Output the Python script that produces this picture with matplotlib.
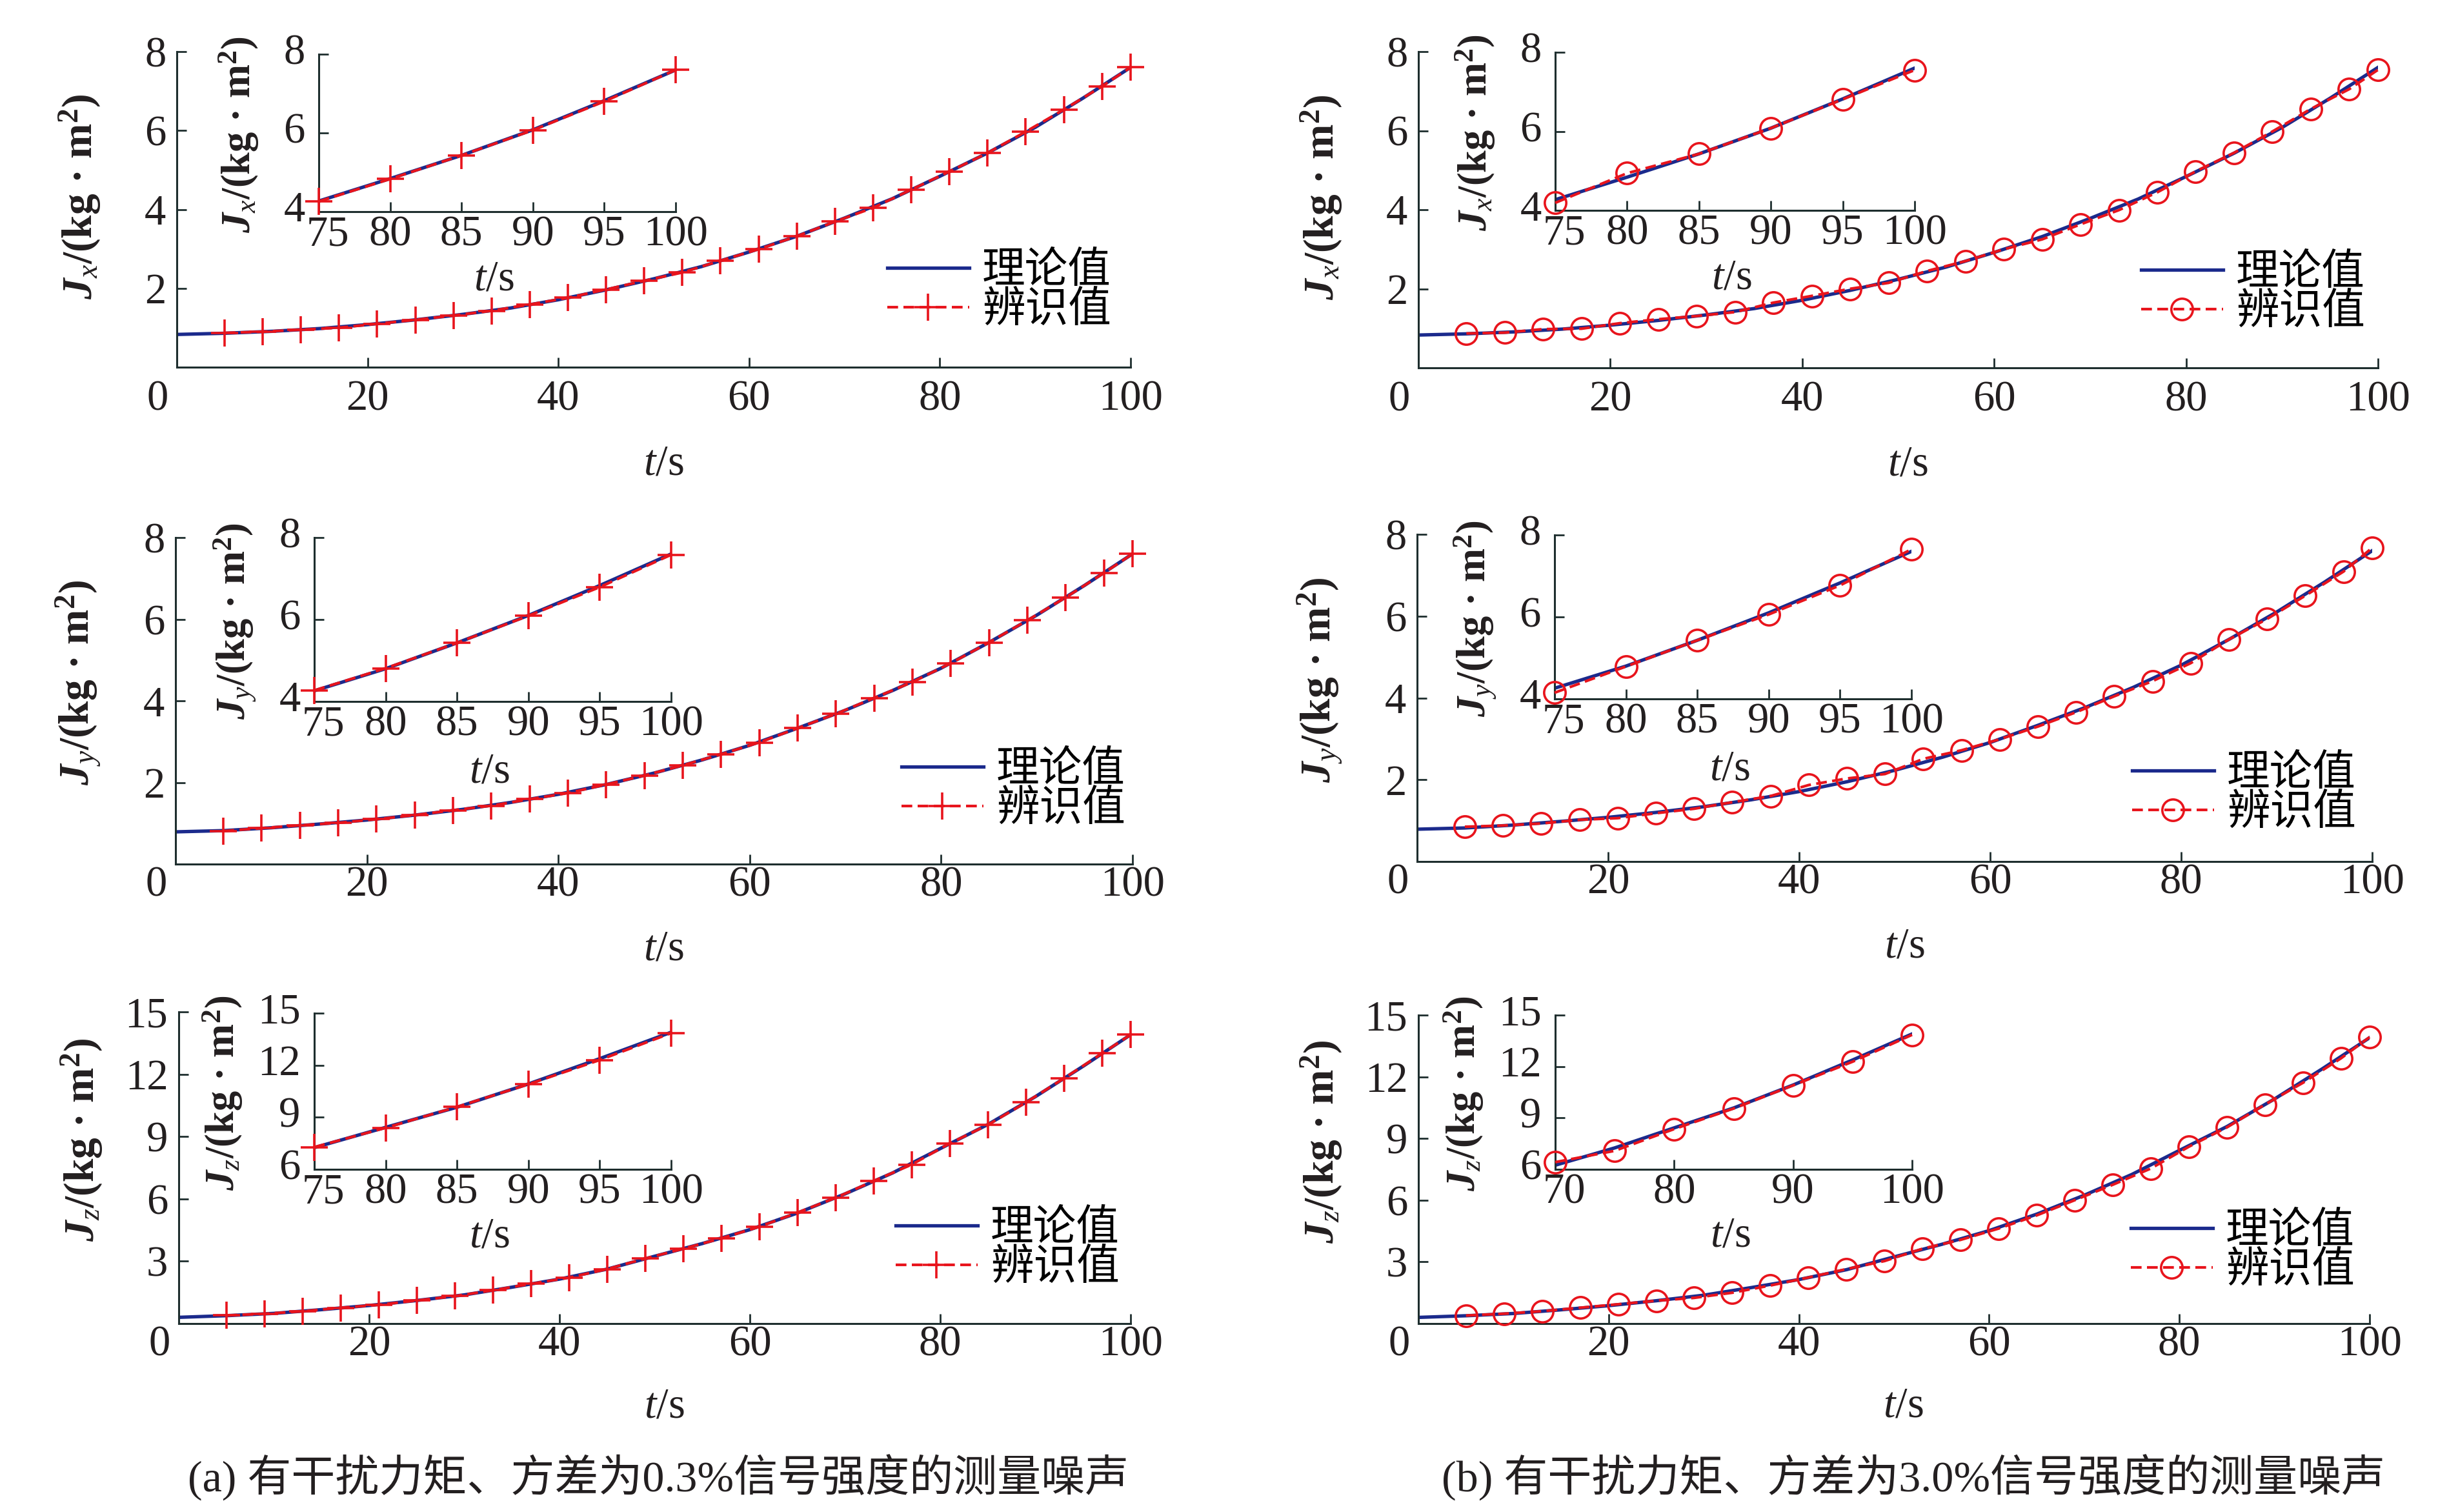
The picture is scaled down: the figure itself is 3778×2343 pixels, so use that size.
import numpy as np
import matplotlib
matplotlib.use('Agg')
import matplotlib.pyplot as plt
from matplotlib.transforms import ScaledTranslation

plt.rcParams['font.family'] = ['Liberation Serif', 'Noto Sans CJK SC']
plt.rcParams['mathtext.fontset'] = 'custom'
plt.rcParams['mathtext.rm'] = 'Liberation Serif'
plt.rcParams['mathtext.it'] = 'Liberation Serif:italic'
plt.rcParams['mathtext.bf'] = 'Liberation Serif:bold'
plt.rcParams['mathtext.bfit'] = 'Liberation Serif:italic:bold'

# time axes
t_theory = [0, 5, 10, 15, 20, 25, 30, 35, 40, 45, 50, 55, 60, 65, 70, 75, 80, 85, 90, 95, 100]
t_ident = [5, 9, 13, 17, 21, 25, 29, 33, 37, 41, 45, 49, 53, 57, 61, 65, 69, 73, 77, 81, 85, 89, 93, 97, 100]
t_inset = [75, 80, 85, 90, 95, 100]
t_inset_wide = [70, 75, 80, 85, 90, 95, 100]

# theoretical inertia (same in both columns)
jx_theory = [0.83, 0.86, 0.91, 0.98, 1.08, 1.20, 1.34, 1.50, 1.71, 1.96, 2.24,
             2.55, 2.92, 3.32, 3.78, 4.27, 4.84, 5.43, 6.08, 6.82, 7.60]
jy_theory = [0.79, 0.82, 0.89, 0.98, 1.08, 1.20, 1.34, 1.51, 1.71, 1.95, 2.23,
             2.55, 2.91, 3.33, 3.77, 4.26, 4.80, 5.43, 6.10, 6.83, 7.60]
jz_theory = [0.30, 0.38, 0.49, 0.67, 0.87, 1.11, 1.38, 1.75, 2.14, 2.62, 3.24,
             3.85, 4.52, 5.32, 6.24, 7.25, 8.42, 9.58, 10.92, 12.38, 13.90]

# identified values, (a) 0.3% noise
jx_ident_a = [0.87, 0.90, 0.95, 1.00, 1.10, 1.20, 1.31, 1.43, 1.59, 1.76, 1.97, 2.19, 2.40,
              2.70, 2.99, 3.32, 3.69, 4.04, 4.50, 4.96, 5.43, 5.97, 6.53, 7.12, 7.60]
jy_ident_a = [0.81, 0.88, 0.95, 1.01, 1.10, 1.20, 1.32, 1.43, 1.59, 1.74, 1.95, 2.17, 2.42,
              2.69, 2.98, 3.33, 3.68, 4.07, 4.46, 4.92, 5.43, 5.97, 6.53, 7.13, 7.60]
jz_ident_a = [0.39, 0.47, 0.59, 0.76, 0.90, 1.11, 1.32, 1.60, 1.91, 2.21, 2.62, 3.13, 3.60,
              4.10, 4.66, 5.34, 6.05, 6.86, 7.65, 8.67, 9.56, 10.64, 11.80, 13.00, 13.90]

# identified values, (b) 3.0% noise
jx_ident_b = [0.87, 0.89, 0.98, 0.99, 1.13, 1.23, 1.31, 1.41, 1.65, 1.82, 2.00, 2.15, 2.45,
              2.70, 3.00, 3.25, 3.63, 3.99, 4.44, 4.97, 5.44, 5.98, 6.55, 7.05, 7.54]
jy_ident_b = [0.85, 0.88, 0.93, 1.02, 1.06, 1.18, 1.29, 1.45, 1.60, 1.87, 2.03, 2.14, 2.51,
              2.72, 2.99, 3.30, 3.65, 4.04, 4.41, 4.85, 5.43, 5.93, 6.50, 7.09, 7.67]
jz_ident_b = [0.39, 0.48, 0.60, 0.77, 0.94, 1.11, 1.25, 1.50, 1.85, 2.24, 2.65, 3.04, 3.64,
              4.07, 4.62, 5.26, 6.00, 6.75, 7.54, 8.60, 9.54, 10.65, 11.71, 12.90, 13.93]

# identified values in the zoomed insets
jx_inset_a = [4.26, 4.83, 5.43, 6.07, 6.80, 7.60]
jy_inset_a = [4.27, 4.81, 5.43, 6.09, 6.79, 7.58]
jz_inset_a = [7.28, 8.39, 9.60, 10.90, 12.30, 13.85]
jx_inset_b = [4.19, 4.94, 5.43, 6.08, 6.81, 7.55]
jy_inset_b = [4.15, 4.79, 5.43, 6.06, 6.77, 7.65]
jz_inset_b = [6.42, 7.08, 8.35, 9.55, 10.90, 12.28, 13.85]

legend_labels = ['理论值', '辨识值']
captions = ['(a) 有干扰力矩、方差为0.3%信号强度的测量噪声',
            '(b) 有干扰力矩、方差为3.0%信号强度的测量噪声']

BLUE = '#1b2a8c'
RED = '#e8141c'
SPINE = '#1e2e2e'
TXT = '#231f20'
FIG_W, FIG_H = 3778, 2343


def rect(l, r, t, b):
    return [l / FIG_W, 1 - b / FIG_H, (r - l) / FIG_W, (b - t) / FIG_H]


def style_axes(ax, xlim, ylim, xticks, yticks, xpad, ypad):
    for s in ['top', 'right']:
        ax.spines[s].set_visible(False)
    for s in ['left', 'bottom']:
        ax.spines[s].set_linewidth(2.2)
        ax.spines[s].set_color(SPINE)
    ax.set_xlim(xlim)
    ax.set_ylim(ylim)
    ax.set_xticks(xticks)
    ax.set_yticks(yticks)
    ax.tick_params(direction='in', length=11, width=2, colors=SPINE,
                   labelcolor=TXT, labelsize=48)
    ax.tick_params(axis='x', pad=xpad)
    ax.tick_params(axis='y', pad=ypad)
    ax.patch.set_alpha(0)


def shift(label, dx, dy):
    label.set_transform(label.get_transform() + ScaledTranslation(dx, dy, fig.dpi_scale_trans))


def draw_panel(fig, main_box, inset_box, legend_pos, comp, y_th, y_id, t_in, y_in,
               marker, ylim, yticks, inset_xlim, inset_xticks, inset_ylim, inset_yticks,
               xpad, ylab_y, xlab_y, inset_ylab_x):
    ylabel = r'$\mathbfit{J}_{\mathit{%s}}$/(kg · m$^{\mathbf{2}}$)' % comp
    mk = dict(marker=marker, ms=30 if marker == '+' else 24, mew=2.6,
              mfc='none', mec=RED)

    ax = fig.add_axes(rect(*main_box))
    style_axes(ax, (0, 100), ylim, [0, 20, 40, 60, 80, 100], yticks, xpad, 12)
    # the "0" under the origin sits a little to the left in the original
    shift(ax.get_xticklabels()[0], -0.3, 0)
    l1, = ax.plot(t_theory, y_th, color=BLUE, lw=3.8, zorder=2)
    l2, = ax.plot(t_ident, y_id, color=RED, lw=3, ls=(0, (4.0, 2.0)),
                  clip_on=False, zorder=3, **mk)
    w = main_box[1] - main_box[0]
    ax.text(-150 / w, ylab_y, ylabel, transform=ax.transAxes, rotation=90,
            ha='center', va='center', fontsize=47, fontweight='bold', color=TXT)
    ax.text(0.51, xlab_y, r'$\mathit{t}$/s', transform=ax.transAxes,
            ha='center', va='center', fontsize=48, color=TXT)
    lx, ly = legend_pos
    ax.legend([l1, l2], legend_labels, loc='center left',
              bbox_to_anchor=(lx / FIG_W, 1 - ly / FIG_H), bbox_transform=fig.transFigure,
              frameon=False, fontsize=48, handlelength=1.9, handletextpad=0.3,
              labelspacing=0.0, borderpad=0, borderaxespad=0, numpoints=1)

    ins = fig.add_axes(rect(*inset_box))
    style_axes(ins, inset_xlim, inset_ylim, inset_xticks, inset_yticks, 4, 14)
    # inset y labels sit slightly above their ticks, first x label nudged right
    for lab in ins.get_yticklabels():
        shift(lab, -0.02, 0.08)
    shift(ins.get_xticklabels()[0], 0.14, 0)
    sel = np.asarray(t_theory) >= inset_xlim[0]
    ins.plot(np.asarray(t_theory)[sel], np.asarray(y_th)[sel], color=BLUE, lw=3.8, zorder=2)
    ins.plot(t_in, y_in, color=RED, lw=3, ls=(0, (4.0, 2.0)), clip_on=False, zorder=3, **mk)
    iw = inset_box[1] - inset_box[0]
    ins.text(inset_ylab_x / iw, 0.49, ylabel, transform=ins.transAxes, rotation=90,
             ha='center', va='center', fontsize=45, fontweight='bold', color=TXT)
    ins.text(0.49, -0.43, r'$\mathit{t}$/s', transform=ins.transAxes,
             ha='center', va='center', fontsize=48, color=TXT)


fig = plt.figure(figsize=(FIG_W / 100, FIG_H / 100), dpi=100)

rows = [
    ('x', jx_theory, jx_ident_a, jx_ident_b, jx_inset_a, jx_inset_b, (0, 8), [2, 4, 6, 8], (4, 8), [4, 6, 8]),
    ('y', jy_theory, jy_ident_a, jy_ident_b, jy_inset_a, jy_inset_b, (0, 8), [2, 4, 6, 8], (4, 8), [4, 6, 8]),
    ('z', jz_theory, jz_ident_a, jz_ident_b, jz_inset_a, jz_inset_b, (0, 15), [3, 6, 9, 12, 15], (6, 15), [6, 9, 12, 15]),
]
main_boxes = [[(274, 1752, 80, 569), (2198, 3685, 80, 570)],
              [(272, 1755, 833, 1339), (2196, 3676, 828, 1335)],
              [(277, 1752, 1568, 2051), (2198, 3672, 1573, 2051)]]
inset_boxes = [[(494, 1047, 84, 328), (2410, 2967, 81, 326)],
               [(487, 1040, 833, 1087), (2409, 2962, 829, 1083)],
               [(487, 1040, 1570, 1812), (2410, 2963, 1573, 1812)]]
legend_spots = [[(1375, 452), (3318, 455)],
                [(1397, 1225), (3304, 1231)],
                [(1388, 1936), (3302, 1940)]]
xpads = [14, 2, 2]
ylab_ys = [0.54, 0.555, 0.59]
xlab_ys = [-0.307, -0.261, -0.267]
inset_ylab_xs = [-124, -123, -142]

for r, (comp, th, ida, idb, ina, inb, ylim, yt, iylim, iyt) in enumerate(rows):
    for c in range(2):
        if c == 0:
            idv, t_in, y_in, mark = ida, t_inset, ina, '+'
            ixlim, ixt = (75, 100), [75, 80, 85, 90, 95, 100]
        else:
            idv, mark = idb, 'o'
            if comp == 'z':
                t_in, y_in = t_inset_wide, inb
                ixlim, ixt = (70, 100), [70, 80, 90, 100]
            else:
                t_in, y_in = t_inset, inb
                ixlim, ixt = (75, 100), [75, 80, 85, 90, 95, 100]
        draw_panel(fig, main_boxes[r][c], inset_boxes[r][c], legend_spots[r][c], comp,
                   th, idv, t_in, y_in, mark, ylim, yt, ixlim, ixt, iylim, iyt,
                   xpads[r], ylab_ys[r], xlab_ys[r], inset_ylab_xs[r])

fig.text(1020 / FIG_W, 1 - 2290 / FIG_H, captions[0], ha='center', va='center',
         fontsize=49, color=TXT)
fig.text(2965 / FIG_W, 1 - 2290 / FIG_H, captions[1], ha='center', va='center',
         fontsize=49, color=TXT)

fig.savefig('out.png', dpi=100, facecolor='white')
